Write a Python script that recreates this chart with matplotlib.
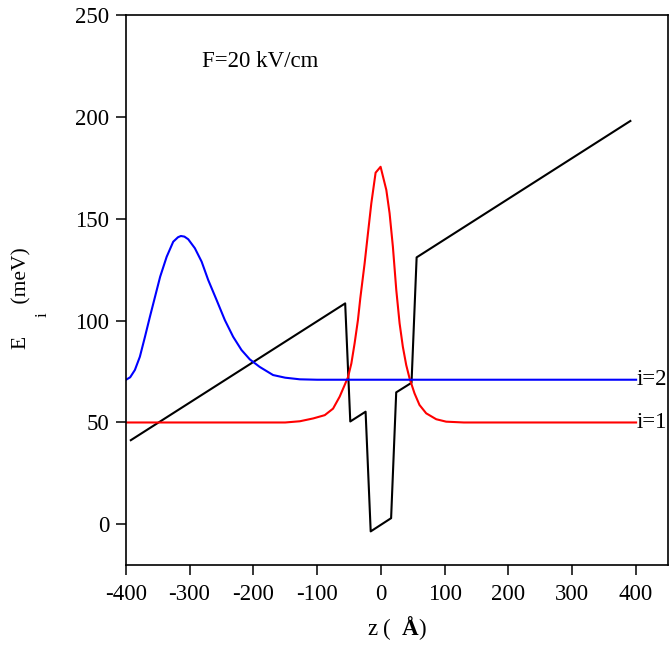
import matplotlib
matplotlib.use("Agg")
import matplotlib.pyplot as plt

plt.rcParams['font.family'] = ['Liberation Serif', 'DejaVu Serif']
plt.rcParams['mathtext.fontset'] = 'custom'
plt.rcParams['mathtext.rm'] = 'Liberation Serif'
plt.rcParams['mathtext.bf'] = 'Liberation Serif:bold'
plt.rcParams['axes.unicode_minus'] = False

# Conduction band edge under F = 20 kV/cm (meV vs. z in Angstrom)
band_z = [-392, -56, -48, -24, -16, 16, 24, 48, 56, 391]
band_e = [41.3, 108.5, 50.5, 55.3, -3.5, 3.0, 64.8, 69.5, 131.1, 198.1]

# Ground state i=1: level plus probability density
psi1_z = [-400, -150, -127, -106, -88, -75, -64.6, -56.8, -51.6, -46.3, -41.2,
          -36, -32.3, -25.5, -20.3, -15, -8.3, -0.5, 8.5, 13.6, 18.8, 24.1,
          29.3, 34.4, 39.7, 44.9, 52.7, 60.5, 71, 86.7, 102.3, 130, 400]
psi1_e = [50.0, 50.0, 50.6, 52.0, 53.6, 56.8, 62.7, 68.4, 72.2, 79.0, 88.9,
          100.3, 111.0, 128.2, 142.9, 157.7, 172.7, 175.6, 164.2, 152.8, 136.3, 115.1,
          98.7, 87.2, 78.2, 71.7, 64.3, 58.6, 54.5, 51.6, 50.4, 50.0, 50.0]

# Excited state i=2
psi2_z = [-400, -393, -385.6, -377.8, -369.8, -362, -354, -346, -335.8, -325.5,
          -318, -313.5, -308, -302, -291.6, -281, -270.7, -257.6, -244.6, -231.6,
          -218.5, -205.5, -190, -169, -150, -127, -100, 400]
psi2_e = [70.9, 72.2, 75.8, 82.3, 92.1, 102.0, 111.8, 121.6, 131.4, 138.8,
          141.0, 141.6, 141.3, 140.0, 135.6, 129.0, 120.0, 110.2, 100.3, 92.1,
          85.6, 81.0, 77.3, 73.3, 72.0, 71.2, 71.0, 71.0]

level_labels = ['i=1', 'i=2']
level_e = [50.0, 71.0]

x_ticks = [-400, -300, -200, -100, 0, 100, 200, 300, 400]
y_ticks = [0, 50, 100, 150, 200, 250]

fs = 16.5
fig = plt.figure(figsize=(6.69, 6.46), dpi=100)
ax = fig.add_axes([0.1879, 0.1254, 0.8106, 0.8509])

ax.plot(band_z, band_e, color='black', lw=1.5)
ax.plot(psi1_z, psi1_e, color='red', lw=1.5)
ax.plot(psi2_z, psi2_e, color='blue', lw=1.5)

for lab, e in zip(level_labels, level_e):
    ax.text(400, e, lab, ha='left', va='center', fontsize=fs)

ax.text(-281, 227.5, 'F=20 kV/cm', ha='left', va='center', fontsize=fs)

ax.set_xlim(-400, 450)
ax.set_ylim(-20, 250)
ax.set_xticks(x_ticks)
ax.set_yticks(y_ticks)
ax.tick_params(direction='out', length=7, width=1.1, labelsize=fs)
ax.tick_params(axis='x', pad=7)
ax.tick_params(axis='y', pad=5)
for s in ax.spines.values():
    s.set_linewidth(1.2)

ax.set_xlabel(r'z (  $\mathbf{Å}$)', fontsize=fs, labelpad=6)

# y label: E with a lowered subscript i, then the unit
fig.text(21.5 / 669, 1 - 298 / 646, 'E      (meV)', rotation=90,
         ha='center', va='center', fontsize=15.5)
fig.text(43 / 669, 1 - 315 / 646, 'i', rotation=90,
         ha='center', va='center', fontsize=12)

fig.savefig('out.png', dpi=100)
